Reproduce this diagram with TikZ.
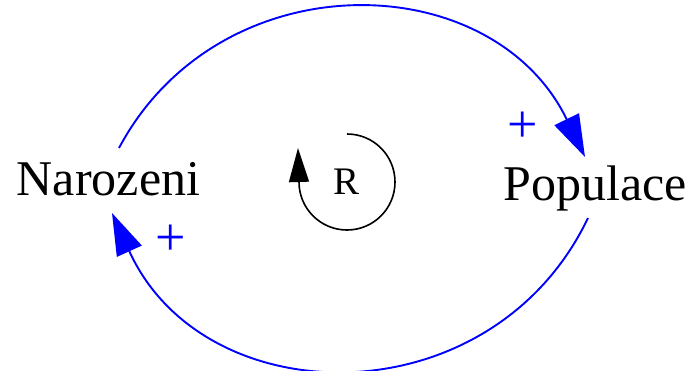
\documentclass[tikz,border=0pt]{standalone}
\usepackage{fontspec}
\setmainfont{Liberation Serif}
\usepackage{tikz}
\usetikzlibrary{arrows.meta,positioning,calc}

\begin{document}
\begin{tikzpicture}[
    x=1pt, y=1pt,
    varname/.style={
      inner sep=0pt, anchor=base,
      font=\fontsize{50}{60}\selectfont
    },
    looplabel/.style={
      inner sep=0pt,
      font=\fontsize{39}{47}\selectfont
    },
    polarity/.style={
      inner sep=0pt, text=blue,
      font=\fontsize{54}{60}\selectfont
    },
    link/.style={
      -{Triangle[length=42pt, width=27pt]}, line width=1.9pt, blue
    },
    loop_arrow/.style={
      -{Triangle[length=34pt, width=20pt]}, line width=1.6pt, black
    }
  ]
  \useasboundingbox (0,0) rectangle (693,370);

  % --- Variables ---
  \node[varname] (narozeni) at (108.5,175) {Narozeni};
  \node[varname] (populace) at (595,170) {Populace};

  % --- Causal links ---
  \coordinate (narozeni-out) at (119,222);
  \coordinate (populace-in) at (585,213);
  \coordinate (populace-out) at (588,152);
  \coordinate (narozeni-in) at (112,157);

  \draw[link] (narozeni-out) to[bend left=63, looseness=1.17] (populace-in);
  \draw[link] (populace-out) to[bend left=65, looseness=1.2] (narozeni-in);

  \node[polarity] (plus-top) at (523,243) {+};
  \node[polarity] (plus-bottom) at (171,130) {+};

  % --- Loop marker ---
  \node[looplabel] (loopR) at (347,188) {R};
  \draw[loop_arrow] ([yshift=48pt]loopR.center)
    arc[start angle=90, end angle=-180, radius=48] -- ++(-1,34);
\end{tikzpicture}
\end{document}
